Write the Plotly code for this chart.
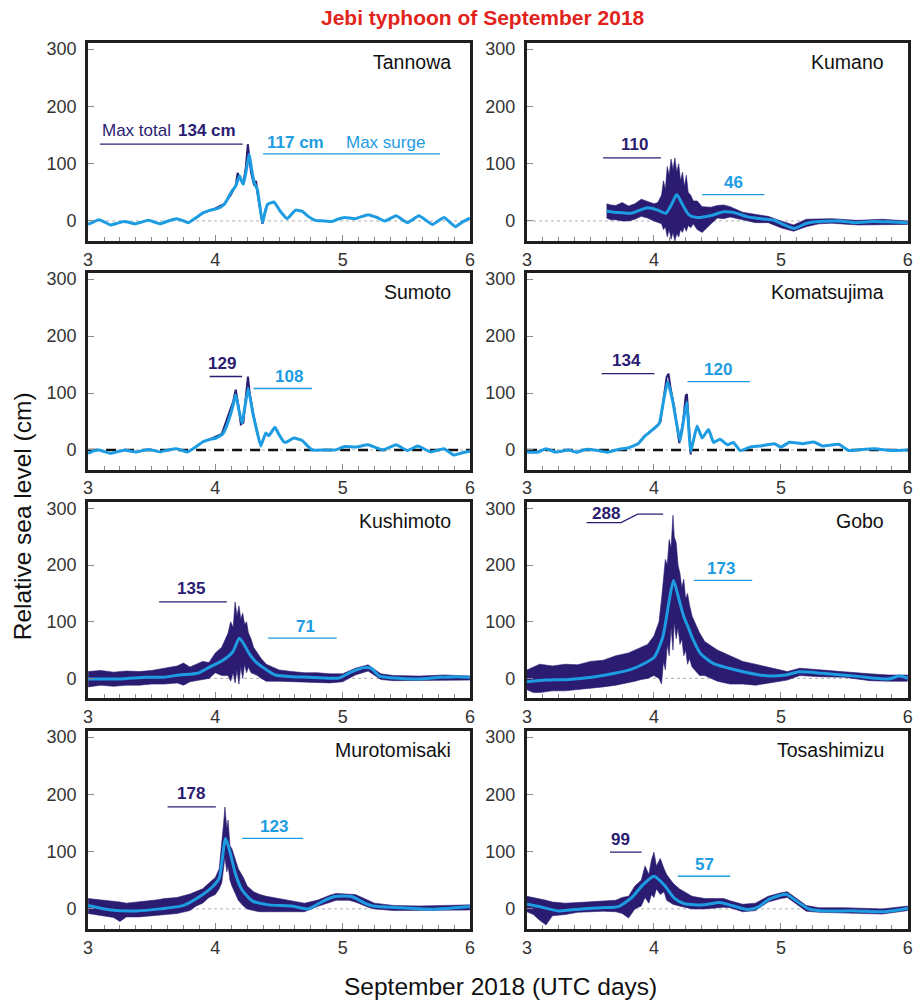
import plotly.graph_objects as go
from plotly.subplots import make_subplots

# ---------------- DATA ----------------
STATIONS = ["Tannowa", "Kumano", "Sumoto", "Komatsujima",
            "Kushimoto", "Gobo", "Murotomisaki", "Tosashimizu"]
MAX_TOTAL = [134, 110, 129, 134, 135, 288, 178, 99]
MAX_SURGE = [117, 46, 108, 120, 71, 173, 123, 57]
X_TICKS = [3, 4, 5, 6]
Y_TICKS = [0, 100, 200, 300]

# Tannowa
TANNOWA_T = [3.0, 3.04, 3.086, 3.13, 3.177, 3.23, 3.28, 3.33, 3.37, 3.42, 3.475, 3.52, 3.566, 3.63, 3.695,
             3.74, 3.786, 3.85, 3.903, 3.95, 4.006, 4.04, 4.07, 4.1, 4.13, 4.16, 4.19, 4.205, 4.22, 4.24,
             4.266, 4.285, 4.305, 4.33, 4.35, 4.37, 4.39, 4.41, 4.46, 4.51, 4.564, 4.6, 4.63, 4.68, 4.73,
             4.785, 4.85, 4.914, 4.96, 5.018, 5.096, 5.2, 5.27, 5.33, 5.42, 5.51, 5.60, 5.705, 5.796,
             5.887, 5.94, 6.0]
TANNOWA_SURGE = [-6, -2, 2, -2, -7, -4, -1, -3, -5, -2, 1, -2, -5, 0, 4, 1, -3, 6, 14, 18, 21, 24, 29, 40,
                 52, 61, 79, 70, 64, 85, 117, 90, 67, 55, 25, -3, 15, 29, 33, 17, 4, 12, 19, 17, 8, 1, 0,
                 -1, 3, 6, 4, 11, 6, 0, 9, -3, 9, -6, 6, -10, -2, 5]
TANNOWA_TOT_T = [3.9, 4.0, 4.07, 4.12, 4.16, 4.175, 4.19, 4.205, 4.22, 4.24, 4.255, 4.265, 4.28, 4.305,
                 4.32, 4.33, 4.35, 4.37, 4.4]
TANNOWA_TOT = [14, 22, 30, 45, 62, 84, 75, 72, 66, 95, 134, 118, 85, 62, 70, 50, 25, -5, 25]

# Kumano
KUMANO_T = [3.627, 3.718, 3.82, 3.95, 4.03, 4.094, 4.146, 4.18, 4.224, 4.276, 4.34, 4.444, 4.55, 4.626,
            4.73, 4.86, 4.94, 5.028, 5.106, 5.197, 5.275, 5.456, 5.586, 5.716, 5.845, 6.0]
KUMANO_SURGE = [17.5, 14.6, 13.5, 23, 19, 13.5, 32, 46, 29, 10.5, 6, 9, 16, 15, 7.6, 3.5, 1.7, -7, -13,
                -4.4, -1.6, 0, -3, -1, -1.6, -3]
KUMANO_ENV_T = [3.627, 3.66, 3.7, 3.75, 3.8, 3.85, 3.9, 3.95, 4.0, 4.03, 4.06, 4.075, 4.09, 4.105, 4.12,
                4.135, 4.15, 4.165, 4.18, 4.195, 4.21, 4.225, 4.24, 4.255, 4.27, 4.29, 4.31, 4.34, 4.38,
                4.45, 4.5, 4.55, 4.6, 4.7, 4.8, 4.9, 5.0, 5.1, 5.2, 5.3, 5.4, 5.6, 5.8, 6.0]
KUMANO_HI = [30, 28, 27, 32, 26, 30, 38, 34, 30, 32, 45, 70, 55, 95, 80, 108, 90, 110, 85, 100, 70, 85, 60,
             80, 50, 45, 35, 35, 25, 24, 27, 28, 25, 15, 12, 8, 0, -7, 3, 4, 4, 1, 3, 0]
KUMANO_LO = [5, 2, 2, 0, 0, 3, 8, 5, 0, -3, -5, -15, -10, -28, -15, -32, -20, -35, -22, -28, -15, -20, -10,
             -18, -8, -12, -5, -15, -20, -5, 5, 4, 7, 2, -3, -3, -12, -18, -10, -5, -4, -7, -6, -6]

# Sumoto
SUMOTO_T = [3.0, 3.04, 3.086, 3.13, 3.18, 3.23, 3.29, 3.33, 3.38, 3.43, 3.475, 3.52, 3.566, 3.63, 3.695,
            3.74, 3.78, 3.85, 3.903, 3.95, 4.006, 4.058, 4.085, 4.11, 4.135, 4.16, 4.185, 4.21, 4.235,
            4.258, 4.297, 4.33, 4.357, 4.396, 4.42, 4.468, 4.5, 4.538, 4.56, 4.616, 4.68, 4.72, 4.76,
            4.86, 4.94, 5.018, 5.096, 5.2, 5.26, 5.317, 5.42, 5.51, 5.59, 5.69, 5.796, 5.874, 5.94, 6.0]
SUMOTO_SURGE = [-6, -2, 0, -3, -6, -3, 0, -2, -3.5, -1, 1, -1, -3.5, 0, 2, -1, -3.5, 6, 14.5, 18, 21, 28,
                40, 56, 75, 97, 70, 47, 80, 108, 62, 30, 7, 30, 25, 40, 27, 14, 14, 21, 17, 8, 0, 0, 0, 6,
                5, 9, 4, 0, 9, -1, 7, -3.5, 2, -9, -5, -2]
SUMOTO_TOT_T = [3.95, 4.05, 4.1, 4.14, 4.16, 4.18, 4.2, 4.22, 4.24, 4.256, 4.27, 4.3, 4.33]
SUMOTO_TOT = [18, 28, 60, 85, 106, 80, 45, 48, 95, 129, 100, 60, 30]

# Komatsujima
KOMA_T = [3.0, 3.08, 3.15, 3.226, 3.33, 3.39, 3.46, 3.56, 3.63, 3.72, 3.80, 3.875, 3.926, 3.97, 4.016,
          4.043, 4.075, 4.107, 4.146, 4.18, 4.206, 4.235, 4.258, 4.29, 4.34, 4.38, 4.43, 4.47, 4.52, 4.58,
          4.626, 4.68, 4.756, 4.834, 4.95, 5.0, 5.067, 5.17, 5.26, 5.327, 5.456, 5.534, 5.638, 5.74,
          5.87, 6.0]
KOMA_SURGE = [-3.5, -4, 2, -3.5, 0, -4, 1, -1, -4, 1, 4, 11, 24, 32, 40.5, 47, 85, 120, 88, 45, 15.7, 55,
              84, -2, 42, 21, 36, 13, 19, 9, 13, -1, 5, 7, 11, 5, 13.5, 11, 14, 7, 10, -1, 1, 2, -1, 0]
KOMA_TOT_T = [4.05, 4.08, 4.1, 4.115, 4.13, 4.16, 4.2, 4.23, 4.25, 4.26, 4.275, 4.29]
KOMA_TOT = [48, 100, 128, 134, 110, 75, 12, 50, 95, 98, 40, -8]

# Kushimoto
KUSHI_T = [3.0, 3.25, 3.46, 3.59, 3.72, 3.86, 3.955, 4.06, 4.136, 4.188, 4.22, 4.266, 4.318, 4.396, 4.47,
           4.6, 4.73, 4.86, 4.97, 5.07, 5.17, 5.226, 5.29, 5.41, 5.59, 5.77, 5.91, 6.0]
KUSHI_SURGE = [-1, -1, 2, 2, 6, 9, 20, 32, 46.5, 71, 62, 43.7, 29, 16, 6, 3, 2, 0.5, 0.5, 11.5, 19, 17.5,
               4, 0.5, -1, 2, 3, 2]
KUSHI_ENV_T = [3.0, 3.1, 3.2, 3.3, 3.4, 3.5, 3.6, 3.7, 3.75, 3.8, 3.9, 3.95, 4.0, 4.05, 4.1, 4.12, 4.14,
               4.155, 4.17, 4.185, 4.2, 4.215, 4.23, 4.245, 4.26, 4.28, 4.3, 4.33, 4.36, 4.4, 4.5, 4.6,
               4.7, 4.8, 4.9, 5.0, 5.1, 5.2, 5.3, 5.4, 5.6, 5.8, 6.0]
KUSHI_HI = [12, 14, 11, 13, 12, 14, 18, 22, 27, 20, 30, 28, 45, 55, 80, 100, 90, 135, 110, 128, 105, 115,
            95, 100, 80, 70, 55, 45, 35, 25, 15, 12, 10, 10, 8, 8, 18, 24, 8, 5, 4, 6, 4]
KUSHI_LO = [-15, -12, -14, -12, -12, -10, -10, -8, -12, -6, -2, 0, 10, 5, 5, -5, 10, -8, 15, -10, 20, 0,
            25, 10, 20, 10, 8, 5, 0, -5, -5, -6, -6, -7, -8, -6, 6, 13, -2, -4, -4, -3, -3]

# Gobo
GOBO_T = [3.0, 3.15, 3.33, 3.51, 3.69, 3.82, 3.913, 4.004, 4.07, 4.12, 4.154, 4.2, 4.237, 4.276, 4.30,
          4.367, 4.47, 4.6, 4.73, 4.886, 5.04, 5.145, 5.327, 5.586, 5.845, 5.936, 6.0]
GOBO_SURGE = [-6, -3, -2, 2, 9, 16, 25, 38, 73, 137, 173, 137, 108, 87, 73, 44, 26, 17.5, 10.5, 4.5, 6,
              11.5, 9, 4, -1, 4, 0]
GOBO_ENV_T = [3.0, 3.05, 3.1, 3.2, 3.3, 3.4, 3.5, 3.6, 3.7, 3.8, 3.85, 3.9, 3.95, 4.0, 4.04, 4.06, 4.075,
              4.09, 4.105, 4.12, 4.135, 4.15, 4.16, 4.175, 4.19, 4.205, 4.22, 4.235, 4.25, 4.265, 4.28,
              4.3, 4.33, 4.36, 4.4, 4.45, 4.5, 4.6, 4.7, 4.8, 4.9, 5.0, 5.05, 5.15, 5.3, 5.5, 5.7, 5.85,
              6.0]
GOBO_HI = [15, 20, 25, 22, 25, 24, 30, 32, 40, 45, 50, 55, 60, 75, 100, 140, 170, 210, 200, 245, 230, 288,
           250, 240, 200, 185, 160, 175, 140, 150, 130, 110, 95, 80, 65, 58, 50, 40, 30, 25, 20, 15, 12,
           18, 15, 12, 8, 6, 6]
GOBO_LO = [-20, -25, -25, -22, -22, -20, -18, -15, -12, -8, -5, -2, 0, 5, 0, -10, 30, 15, 60, 40, 90, 50,
           100, 70, 90, 60, 70, 40, 50, 25, 35, 20, 12, 5, 5, 0, -5, -10, -10, -12, -8, -5, -3, 5, 3, 2,
           -4, -5, -5]

# Murotomisaki
MURO_T = [3.0, 3.18, 3.38, 3.566, 3.75, 3.877, 3.98, 4.03, 4.08, 4.12, 4.16, 4.21, 4.29, 4.42, 4.60, 4.73,
          4.84, 4.94, 5.07, 5.17, 5.24, 5.46, 5.72, 5.93, 6.0]
MURO_SURGE = [6, -2, -3.5, 0, 6, 21.5, 39, 53.6, 123, 94.6, 59.5, 33, 14, 7, 5, 0, 12.8, 21.5, 21.5, 10.5,
              5, 2, -0.5, 3, 4]
MURO_ENV_T = [3.0, 3.1, 3.2, 3.25, 3.3, 3.4, 3.5, 3.55, 3.6, 3.7, 3.8, 3.85, 3.9, 3.95, 4.0, 4.03, 4.05,
              4.065, 4.075, 4.09, 4.1, 4.115, 4.13, 4.16, 4.18, 4.22, 4.25, 4.3, 4.35, 4.4, 4.5, 4.6, 4.7,
              4.8, 4.9, 4.95, 5.05, 5.1, 5.2, 5.25, 5.4, 5.6, 5.8, 6.0]
MURO_HI = [18, 16, 14, 12, 10, 12, 14, 16, 18, 20, 26, 30, 35, 45, 55, 70, 110, 150, 178, 140, 155, 110,
           105, 85, 70, 55, 40, 30, 25, 22, 18, 15, 10, 15, 24, 27, 26, 25, 15, 10, 6, 5, 6, 7]
MURO_LO = [-8, -12, -15, -22, -14, -14, -12, -10, -9, -8, -3, 5, 10, 20, 25, 35, 45, 70, 90, 65, 75, 50,
           40, 25, 15, 5, 0, -3, -5, -5, -5, -6, -5, 4, 12, 15, 15, 12, 3, 0, -3, -3, -3, -2]

# Tosashimizu
TOSA_T = [3.0, 3.096, 3.25, 3.43, 3.59, 3.72, 3.82, 3.913, 4.0, 4.08, 4.16, 4.24, 4.39, 4.52, 4.626, 4.73,
          4.81, 4.91, 5.04, 5.12, 5.22, 5.327, 5.586, 5.82, 6.0]
TOSA_SURGE = [8, 4, -3.5, 0, 2, 4, 18.6, 42, 57, 42, 18.6, 9, 7, 11, 5, -1, 2, 17, 25.6, 14, 0, -3.5, -3.5,
              -5, 1]
TOSA_ENV_T = [3.0, 3.05, 3.1, 3.15, 3.2, 3.3, 3.4, 3.5, 3.6, 3.7, 3.75, 3.8, 3.85, 3.9, 3.93, 3.96, 3.98,
              4.0, 4.02, 4.05, 4.08, 4.1, 4.15, 4.2, 4.3, 4.4, 4.5, 4.55, 4.6, 4.7, 4.8, 4.9, 5.0, 5.05,
              5.1, 5.2, 5.3, 5.5, 5.8, 6.0]
TOSA_HI = [22, 20, 18, 15, 12, 10, 11, 12, 13, 15, 20, 22, 40, 50, 75, 60, 85, 99, 75, 88, 70, 60, 45, 35,
           22, 18, 18, 18, 14, 8, 10, 22, 28, 30, 22, 6, 2, 2, 0, 5]
TOSA_LO = [-5, -10, -20, -28, -12, -10, -6, -5, -4, -5, -8, -16, 0, 5, 20, 10, 25, 20, 35, 25, 30, 15, 8, 5,
           0, 0, 2, 3, 2, -5, -3, 12, 18, 20, 12, -4, -6, -7, -9, -3]

SERIES = {
    "Tannowa": dict(t=TANNOWA_T, surge=TANNOWA_SURGE, tot_t=TANNOWA_TOT_T, tot=TANNOWA_TOT),
    "Kumano": dict(t=KUMANO_T, surge=KUMANO_SURGE, env_t=KUMANO_ENV_T, hi=KUMANO_HI, lo=KUMANO_LO),
    "Sumoto": dict(t=SUMOTO_T, surge=SUMOTO_SURGE, tot_t=SUMOTO_TOT_T, tot=SUMOTO_TOT),
    "Komatsujima": dict(t=KOMA_T, surge=KOMA_SURGE, tot_t=KOMA_TOT_T, tot=KOMA_TOT),
    "Kushimoto": dict(t=KUSHI_T, surge=KUSHI_SURGE, env_t=KUSHI_ENV_T, hi=KUSHI_HI, lo=KUSHI_LO),
    "Gobo": dict(t=GOBO_T, surge=GOBO_SURGE, env_t=GOBO_ENV_T, hi=GOBO_HI, lo=GOBO_LO),
    "Murotomisaki": dict(t=MURO_T, surge=MURO_SURGE, env_t=MURO_ENV_T, hi=MURO_HI, lo=MURO_LO),
    "Tosashimizu": dict(t=TOSA_T, surge=TOSA_SURGE, env_t=TOSA_ENV_T, hi=TOSA_HI, lo=TOSA_LO),
}

# ---------------- STYLE / LAYOUT ----------------
W, H = 924, 1001
NAVY = "#2b1c72"
BLUE = "#1d9ce2"
RED = "#e2231b"
FONT = "Liberation Sans, Arial, sans-serif"
SMOOTH = {"Kumano", "Kushimoto", "Gobo", "Murotomisaki", "Tosashimizu"}
TIDE_LINE = {"Sumoto", "Komatsujima"}

COL_DOM = [(84 / W, 470 / W), (527.7 / W, 912.7 / W)]
ROW_PX = [(40, 238.7), (270.7, 468.3), (500.7, 697.3), (730, 928.7)]
ROW_DOM = [(1 - b / H, 1 - t / H) for t, b in ROW_PX]
YRANGE = [-35, 311]
NAME_X = [0.956, 0.943]

LABEL_POS = {
    "Tannowa": dict(tspan=(3.093, 4.214), sspan=(4.375, 5.765)),
    "Kumano": dict(tspan=(3.60, 4.055), tx=3.849, sspan=(4.38, 4.87), sx=4.63),
    "Sumoto": dict(tspan=(3.955, 4.21), tx=4.05, sspan=(4.30, 4.76), sx=4.58),
    "Komatsujima": dict(tspan=(3.588, 4.004), tx=3.787, sspan=(4.264, 4.756), sx=4.503),
    "Kushimoto": dict(tspan=(3.558, 4.09), tx=3.805, sspan=(4.414, 4.953), sx=4.711),
    "Gobo": dict(tspan=None, tx=3.62, sspan=(4.315, 4.774), sx=4.53),
    "Murotomisaki": dict(tspan=(3.625, 4.004), tx=3.81, sspan=(4.21, 4.689), sx=4.46),
    "Tosashimizu": dict(tspan=(3.654, 3.903), tx=3.74, sspan=(4.19, 4.60), sx=4.40),
}
GOBO_ELBOW_X = (3.469, 3.741, 3.871, 4.073)

fig = make_subplots(rows=4, cols=2)
annotations = []
shapes = []

for i, name in enumerate(STATIONS):
    r, c = i // 2, i % 2
    n = "" if i == 0 else str(i + 1)
    xr, yr = "x" + n, "y" + n
    s = SERIES[name]

    if "env_t" in s:
        assert len(s["env_t"]) == len(s["hi"]) == len(s["lo"]), name
        fig.add_trace(go.Scatter(x=s["env_t"], y=s["lo"], mode="lines",
                                 line=dict(color=NAVY, width=0.6), hoverinfo="skip", showlegend=False),
                      row=r + 1, col=c + 1)
        fig.add_trace(go.Scatter(x=s["env_t"], y=s["hi"], mode="lines", fill="tonexty",
                                 fillcolor=NAVY, line=dict(color=NAVY, width=0.6),
                                 hoverinfo="skip", showlegend=False),
                      row=r + 1, col=c + 1)
    if "tot_t" in s:
        assert len(s["tot_t"]) == len(s["tot"]), name
        fig.add_trace(go.Scatter(x=s["tot_t"], y=s["tot"], mode="lines",
                                 line=dict(color=NAVY, width=2), showlegend=False),
                      row=r + 1, col=c + 1)
    assert len(s["t"]) == len(s["surge"]), name
    fig.add_trace(go.Scatter(x=s["t"], y=s["surge"], mode="lines",
                             line=dict(color=BLUE, width=3, shape="spline",
                                       smoothing=0.6 if name in SMOOTH else 0.35),
                             showlegend=False),
                  row=r + 1, col=c + 1)

    fig.add_hline(y=0, line=dict(color="#9a9a9a", width=0.8, dash="3px,3px"), layer="below",
                  row=r + 1, col=c + 1)
    if name in TIDE_LINE:
        fig.add_hline(y=0, line=dict(color="#111111", width=2.5, dash="10px,8px"), layer="below",
                      row=r + 1, col=c + 1)

    annotations.append(dict(text=name, xref=xr + " domain", yref=yr + " domain", x=NAME_X[c], y=1,
                            xanchor="right", yanchor="middle", yshift=-19, showarrow=False,
                            font=dict(size=19.5, color="#111111", family=FONT)))

    lp = LABEL_POS[name]
    mt, ms = MAX_TOTAL[i], MAX_SURGE[i]
    if name == "Gobo":
        x0, x1, x2, x3 = GOBO_ELBOW_X
        ylo = mt - 13
        shapes.append(dict(type="path", xref=xr, yref=yr,
                           path=f"M {x0},{ylo} L {x1},{ylo} L {x2},{mt + 2} L {x3},{mt + 2}",
                           line=dict(color=NAVY, width=1.2)))
        annotations.append(dict(text=f"<b>{mt}</b>", xref=xr, yref=yr, x=lp["tx"], y=ylo,
                                yshift=9, showarrow=False,
                                font=dict(size=17, color=NAVY, family=FONT)))
    else:
        x0, x1 = lp["tspan"]
        shapes.append(dict(type="line", xref=xr, yref=yr, x0=x0, x1=x1, y0=mt, y1=mt,
                           line=dict(color=NAVY, width=1.3)))
        if name == "Tannowa":
            annotations.append(dict(text="Max total", xref=xr, yref=yr, x=x0, y=mt, xanchor="left",
                                    yshift=14, showarrow=False,
                                    font=dict(size=17, color=NAVY, family=FONT)))
            annotations.append(dict(text=f"<b>{mt} cm</b>", xref=xr, yref=yr, x=3.938, y=mt,
                                    yshift=14, showarrow=False,
                                    font=dict(size=17, color=NAVY, family=FONT)))
        else:
            annotations.append(dict(text=f"<b>{mt}</b>", xref=xr, yref=yr, x=lp["tx"], y=mt,
                                    yshift=13, showarrow=False,
                                    font=dict(size=17, color=NAVY, family=FONT)))
    x0, x1 = lp["sspan"]
    shapes.append(dict(type="line", xref=xr, yref=yr, x0=x0, x1=x1, y0=ms, y1=ms,
                       line=dict(color=BLUE, width=1.3)))
    if name == "Tannowa":
        annotations.append(dict(text=f"<b>{ms} cm</b>", xref=xr, yref=yr, x=4.63, y=ms,
                                yshift=11, showarrow=False,
                                font=dict(size=17, color=BLUE, family=FONT)))
        annotations.append(dict(text="Max surge", xref=xr, yref=yr, x=5.335, y=ms,
                                yshift=11, showarrow=False,
                                font=dict(size=17, color=BLUE, family=FONT)))
    else:
        annotations.append(dict(text=f"<b>{ms}</b>", xref=xr, yref=yr, x=lp["sx"], y=ms,
                                yshift=12, showarrow=False,
                                font=dict(size=17, color=BLUE, family=FONT)))

    axis_common = dict(showline=True, linewidth=3, linecolor="#1e1e1e", mirror=True, showgrid=False,
                       zeroline=False, ticks="inside", tickcolor="#8a8a8a", tickwidth=1,
                       tickfont=dict(size=18, color="#333333", family=FONT))
    fig.update_layout(**{
        "xaxis" + n: dict(domain=list(COL_DOM[c]), range=[3, 6], tickvals=X_TICKS, ticklen=6,
                          minor=dict(dtick=0.125, tick0=3, ticks="inside", ticklen=4,
                                     tickcolor="#8a8a8a", showgrid=False),
                          **axis_common),
        "yaxis" + n: dict(domain=list(ROW_DOM[r]), range=YRANGE, tickvals=Y_TICKS, ticklen=6,
                          ticklabelstandoff=5, **axis_common),
    })

annotations.append(dict(text="<b>Jebi typhoon of September 2018</b>", xref="paper", yref="paper",
                        x=483 / W, y=1 - 15 / H, xanchor="center", yanchor="middle", showarrow=False,
                        font=dict(size=21, color=RED, family=FONT)))
annotations.append(dict(text="Relative sea level (cm)", xref="paper", yref="paper", x=18 / W,
                        y=1 - 515 / H, xanchor="center", yanchor="middle", textangle=-90,
                        showarrow=False, font=dict(size=24.5, color="#111111", family=FONT)))
annotations.append(dict(text="September 2018 (UTC days)", xref="paper", yref="paper", x=500.5 / W,
                        y=1 - 986.7 / H, xanchor="center", yanchor="middle", showarrow=False,
                        font=dict(size=24.5, color="#111111", family=FONT)))

fig.update_layout(width=W, height=H, margin=dict(l=0, r=0, t=0, b=0), paper_bgcolor="white",
                  plot_bgcolor="white", showlegend=False, annotations=annotations,
                  shapes=list(fig.layout.shapes) + shapes, font=dict(family=FONT))

fig.write_html("out.html")
